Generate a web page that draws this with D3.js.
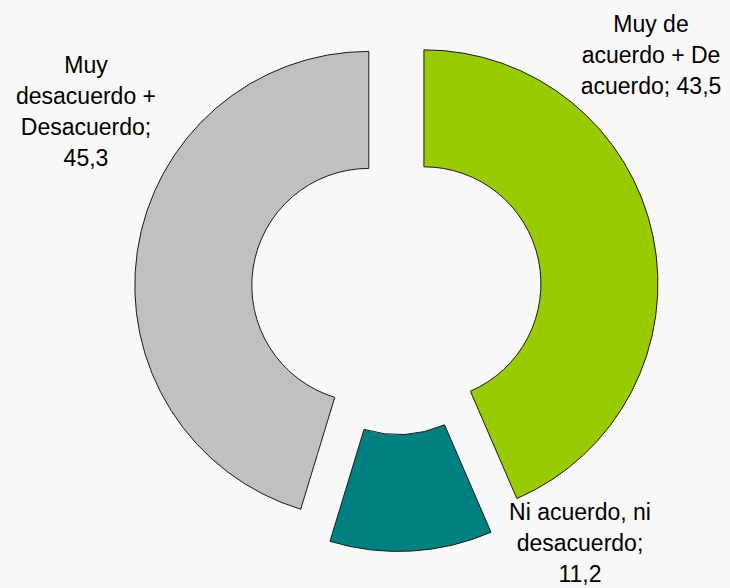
<!DOCTYPE html>
<html>
<head>
<meta charset="utf-8">
<script src="https://cdn.jsdelivr.net/npm/d3@7"></script>
<style>
  html, body { margin:0; padding:0; background:#f8f8f8; }
  svg { display:block; }
  text { font-family: "Liberation Sans", Arial, sans-serif; font-size:23px; fill:#000; }
</style>
</head>
<body>
<svg id="chart" width="730" height="588"></svg>
<script>
// slice data, clockwise from 12 o'clock
var categories = ["Muy de acuerdo + De acuerdo", "Ni acuerdo, ni desacuerdo", "Muy desacuerdo + Desacuerdo"];
var values = [43.5, 11.2, 45.3];
var colors = ["#99cc00", "#008080", "#c0c0c0"];
// label text, one entry per line
var labelLines = [
    ["Muy de", "acuerdo + De", "acuerdo; 43,5"],
    ["Ni acuerdo, ni", "desacuerdo;", "11,2"],
    ["Muy", "desacuerdo +", "Desacuerdo;", "45,3"]
];

var width = 730, height = 588;
var cx = 396.5, cy = 289.5;
var outerR = 234, innerR = 117;
var explode = 28;
// where each label block sits (centre x, first baseline y)
var labelAnchor = [[651, 32], [580, 520], [86, 73]];
var lineStep = 31;

var svg = d3.select("#chart");

var pie = d3.pie().sort(null).value(function(d){ return d; });
var arc = d3.arc().innerRadius(innerR).outerRadius(outerR);
var arcs = pie(values);

var g = svg.append("g").attr("transform", "translate(" + cx + "," + cy + ")");

// exploded slices, each pushed out along its mid angle
g.selectAll("path.slice")
    .data(arcs)
  .enter().append("path")
    .attr("class", "slice")
    .attr("d", arc)
    .attr("transform", function(d){
        var mid = (d.startAngle + d.endAngle) / 2;
        return "translate(" + (explode * Math.sin(mid)) + "," + (-explode * Math.cos(mid)) + ")";
    })
    .attr("fill", function(d, i){ return colors[i]; })
    .attr("stroke", "#1a1a1a")
    .attr("stroke-width", 1);

var labels = svg.selectAll("text.lbl")
    .data(labelLines)
  .enter().append("text")
    .attr("class", "lbl")
    .attr("text-anchor", "middle");

labels.each(function(lines, i){
    var t = d3.select(this);
    lines.forEach(function(line, j){
        t.append("tspan")
            .attr("x", labelAnchor[i][0])
            .attr("y", labelAnchor[i][1] + j * lineStep)
            .text(line);
    });
});
</script>
</body>
</html>
